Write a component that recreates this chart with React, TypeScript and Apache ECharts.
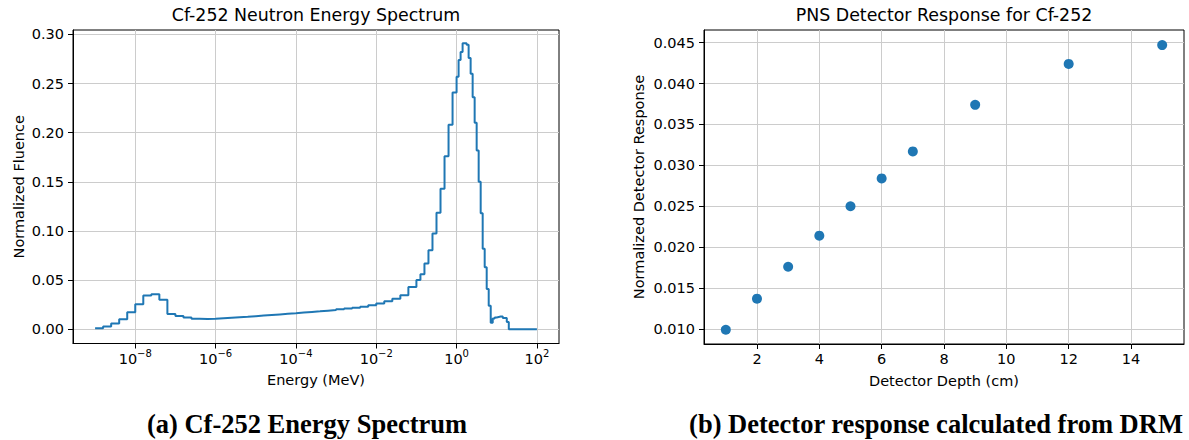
import React, { useEffect, useRef } from "react";
import * as echarts from "echarts";

// ---------- Data: Cf-252 spectrum (bin edges as log10(E/MeV)) ----------
const binEdgesLog10 = [
  -9.0, -8.8, -8.6, -8.4, -8.2, -8.0, -7.8, -7.6, -7.4, -7.2,
  -7.0, -6.8, -6.6, -6.4, -6.2, -6.0, -5.8, -5.6, -5.4, -5.2,
  -5.0, -4.8, -4.6, -4.4, -4.2, -4.0, -3.8, -3.6, -3.4, -3.2,
  -3.0, -2.8, -2.6, -2.4, -2.2, -2.0, -1.8, -1.6, -1.4, -1.2,
  -1.0, -0.9, -0.8, -0.7, -0.6, -0.5, -0.4, -0.3, -0.2, -0.1,
  0.0, 0.05, 0.1, 0.15, 0.2, 0.25, 0.3, 0.35, 0.4, 0.45,
  0.5, 0.55, 0.6, 0.65, 0.7, 0.75, 0.8, 0.85, 0.9, 0.95,
  1.0, 1.05, 1.1, 1.15, 1.2, 1.25, 1.3, 2.0,
];
const fluence = [
  0.001, 0.0027, 0.0058, 0.0102, 0.0173, 0.0255, 0.0344, 0.0357, 0.03, 0.0156,
  0.0136, 0.0119, 0.0108, 0.0105, 0.0106, 0.0112, 0.0117, 0.0122, 0.0127, 0.0133,
  0.0139, 0.0145, 0.0151, 0.0157, 0.0163, 0.017, 0.0176, 0.0182, 0.0189, 0.0196,
  0.0204, 0.0212, 0.022, 0.0228, 0.0245, 0.0262, 0.0286, 0.031, 0.0347, 0.043,
  0.05, 0.056, 0.067, 0.0805, 0.0975, 0.1185, 0.143, 0.176, 0.208, 0.241,
  0.257, 0.274, 0.282, 0.291, 0.291, 0.2895, 0.276, 0.26, 0.236, 0.21,
  0.182, 0.15, 0.118, 0.082, 0.063, 0.041, 0.024, 0.0065, 0.011, 0.012,
  0.0125, 0.013, 0.013, 0.0115, 0.0115, 0.0075, 0.0,
];
const energyTicksLog10 = [-8, -6, -4, -2, 0, 2];
const fluenceTicks = [0, 0.05, 0.1, 0.15, 0.2, 0.25, 0.3];

// ---------- Data: detector response ----------
const depths = [1, 2, 3, 4, 5, 6, 7, 9, 12, 15];
const response = [0.0099, 0.0137, 0.0176, 0.0214, 0.025, 0.0284, 0.0317, 0.0374, 0.0424, 0.0447];
const depthTicks = [2, 4, 6, 8, 10, 12, 14];
const responseTicks = [0.01, 0.015, 0.02, 0.025, 0.03, 0.035, 0.04, 0.045];

const FONT = "DejaVu Sans";
const SERIF = "Liberation Serif";
const BLUE = "#1f77b4";
const TICK_FS = 14.5;
const TITLE_FS = 17.4;
const CAPTION_FS = 26.5;

function stepPoints(edges: number[], vals: number[]) {
  const pts: number[][] = [];
  for (let i = 0; i < vals.length; i++) {
    pts.push([edges[i], vals[i]]);
    pts.push([edges[i + 1], vals[i]]);
  }
  return pts;
}

function axisBase(ticks: number[], fmt: (v: number) => string, margin: number) {
  return {
    axisLine: { show: true, onZero: false, lineStyle: { color: "#000", width: 1 } },
    axisTick: { show: true, inside: false, length: 5, customValues: ticks, lineStyle: { color: "#000", width: 1 } },
    axisLabel: { show: true, customValues: ticks, color: "#000", fontFamily: FONT, fontSize: TICK_FS, margin, formatter: fmt },
    splitLine: { show: true, lineStyle: { color: "#cccccc", width: 1 } },
    nameTextStyle: { color: "#000", fontFamily: FONT, fontSize: TICK_FS },
    nameLocation: "middle",
  };
}

function textEl(text: string, x: number, y: number, family: string, size: number, weight: string) {
  return {
    type: "text",
    x,
    y,
    style: {
      text,
      fontFamily: family,
      fontSize: size,
      fontWeight: weight,
      fill: "#000",
      textAlign: "center",
      textVerticalAlign: "middle",
      align: "center",
      verticalAlign: "middle",
    },
  };
}

export default function App() {
  const ref = useRef<HTMLDivElement>(null);
  useEffect(() => {
    if (!ref.current) return;
    const chart = echarts.init(ref.current, null, { renderer: "svg" });
    const superscript = (v: number) => `{b|10}{s|${v < 0 ? "\u2212" : ""}${Math.abs(v)}}`;
    const xLeft: any = axisBase(energyTicksLog10, superscript as any, 5);
    xLeft.axisLabel.rich = {
      b: { fontFamily: FONT, fontSize: TICK_FS, color: "#000" },
      s: { fontFamily: FONT, fontSize: 10, color: "#000", padding: [0, 0, 10, 0] },
    };
    chart.setOption({
      animation: false,
      backgroundColor: "#fff",
      grid: [
        { left: 73, top: 30, width: 486, height: 313.5, show: true, borderColor: "#000", borderWidth: 1, containLabel: false },
        { left: 704, top: 30, width: 480, height: 314, show: true, borderColor: "#000", borderWidth: 1, containLabel: false },
      ],
      xAxis: [
        {
          ...xLeft,
          type: "value",
          gridIndex: 0,
          min: -9.55,
          max: 2.55,
          name: "Energy (MeV)",
          nameGap: 29,
        },
        {
          ...axisBase(depthTicks, (v: number) => String(v), 7),
          type: "value",
          gridIndex: 1,
          min: 0.3,
          max: 15.7,
          name: "Detector Depth (cm)",
          nameGap: 29,
        },
      ],
      yAxis: [
        {
          ...axisBase(fluenceTicks, (v: number) => v.toFixed(2), 9),
          type: "value",
          gridIndex: 0,
          min: -0.0145,
          max: 0.3045,
          name: "Normalized Fluence",
          nameRotate: 90,
          nameGap: 47,
        },
        {
          ...axisBase(responseTicks, (v: number) => v.toFixed(3), 9),
          type: "value",
          gridIndex: 1,
          min: 0.008155,
          max: 0.046545,
          name: "Normalized Detector Response",
          nameRotate: 90,
          nameGap: 58,
        },
      ],
      series: [
        {
          type: "line",
          xAxisIndex: 0,
          yAxisIndex: 0,
          data: stepPoints(binEdgesLog10, fluence),
          showSymbol: false,
          symbol: "none",
          lineStyle: { color: BLUE, width: 2 },
          itemStyle: { color: BLUE },
          clip: true,
        },
        {
          type: "scatter",
          xAxisIndex: 1,
          yAxisIndex: 1,
          data: depths.map((d, i) => [d, response[i]]),
          symbol: "circle",
          symbolSize: 10,
          itemStyle: { color: BLUE, opacity: 1 },
        },
      ],
      graphic: [
        textEl("Cf-252 Neutron Energy Spectrum", 316, 14.5, FONT, TITLE_FS, "normal"),
        textEl("PNS Detector Response for Cf-252", 944, 14.5, FONT, TITLE_FS, "normal"),
        textEl("(a) Cf-252 Energy Spectrum", 307, 424, SERIF, CAPTION_FS, "bold"),
        textEl("(b) Detector response calculated from DRM", 936, 424, SERIF, CAPTION_FS, "bold"),
      ],
    });
    return () => chart.dispose();
  }, []);
  return <div ref={ref} style={{ position: "fixed", left: 0, top: 0, width: 1189, height: 440 }} />;
}
